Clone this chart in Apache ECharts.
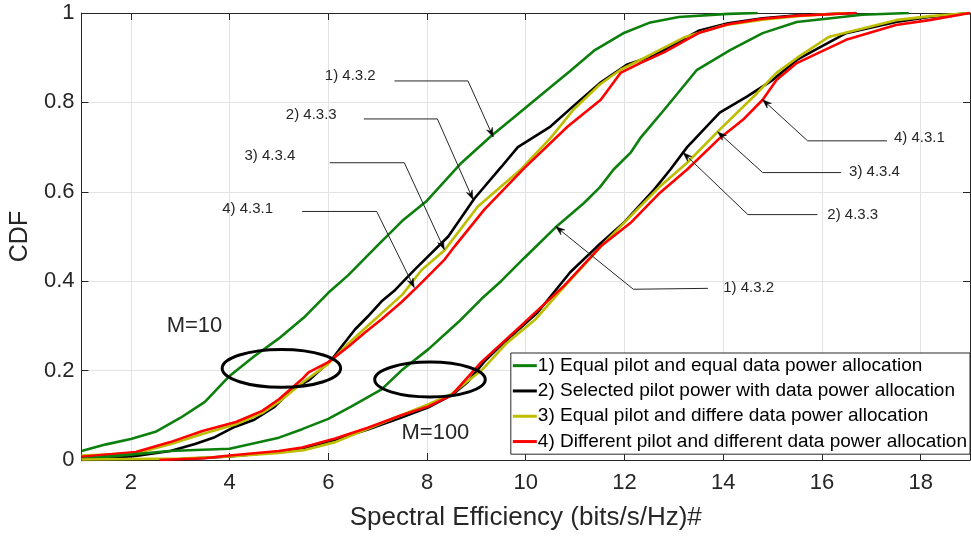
<!DOCTYPE html>
<html>
<head>
<meta charset="utf-8">
<script src="https://cdn.jsdelivr.net/npm/echarts@6/dist/echarts.min.js"></script>
<style>
html,body{margin:0;padding:0;background:#fff;}
#c{width:971px;height:536px;}
</style>
</head>
<body>
<div id="c"></div>
<script>
// ---- Data ----
const seriesNames = [
  '1) Equal pilot and equal data power allocation',
  '2) Selected pilot power with data power allocation',
  '3) Equal pilot and differe data power allocation',
  '4) Different pilot and different data power allocation'
];
const xTicks = [2, 4, 6, 8, 10, 12, 14, 16, 18];
const yTicks = [0, 0.2, 0.4, 0.6, 0.8, 1];

// M = 10
const eqEqM10 = [[1,0.02],[1.5,0.035],[2,0.047],[2.5,0.063],[3,0.094],[3.5,0.13],[4,0.188],[4.5,0.232],[5,0.272],[5.5,0.318],[6,0.374],[6.4,0.413],[7,0.48],[7.5,0.535],[8,0.58],[8.7,0.665],[9.3,0.725],[9.8,0.77],[10.4,0.825],[10.9,0.87],[11.4,0.917],[12,0.956],[12.5,0.978],[13.1,0.991],[14.1,0.998],[14.7,1]];
const selM10 = [[1,0],[2.1,0.009],[2.8,0.02],[3.3,0.036],[3.7,0.051],[4.1,0.074],[4.5,0.09],[4.9,0.118],[5.27,0.158],[5.6,0.178],[6.07,0.225],[6.27,0.254],[6.54,0.292],[6.8,0.321],[7.08,0.355],[7.35,0.38],[7.75,0.426],[8.43,0.5],[8.96,0.585],[9.5,0.655],[9.84,0.7],[10.5,0.746],[11.05,0.8],[11.5,0.843],[12.06,0.885],[12.6,0.905],[13.0,0.93],[13.5,0.96],[14.1,0.977],[14.8,0.988],[15.5,0.995],[16.7,1]];
const eqDiffM10 = [[1,0.01],[2.1,0.015],[2.8,0.035],[3.45,0.058],[4.13,0.08],[4.66,0.105],[5,0.13],[5.5,0.175],[6,0.215],[6.4,0.26],[6.88,0.308],[7.5,0.37],[7.89,0.425],[8.36,0.47],[9.03,0.567],[9.9,0.65],[10.5,0.72],[10.97,0.784],[11.5,0.84],[11.92,0.873],[12.5,0.905],[13.2,0.945],[14,0.972],[14.8,0.985],[15.5,0.993],[16.5,1]];
const diffDiffM10 = [[1,0.007],[2.1,0.018],[2.8,0.04],[3.45,0.065],[4.13,0.085],[4.66,0.11],[5,0.136],[5.47,0.181],[5.6,0.196],[6,0.219],[6.41,0.254],[6.75,0.286],[7.08,0.315],[7.48,0.353],[7.82,0.389],[8.36,0.449],[8.56,0.478],[9.16,0.56],[9.97,0.653],[10.85,0.746],[11.52,0.806],[11.92,0.866],[12.32,0.888],[12.8,0.912],[13.5,0.955],[14.1,0.975],[14.8,0.987],[15.5,0.994],[16.7,1]];

// M = 100
const eqEqM100 = [[1,0.002],[2,0.012],[2.78,0.02],[4,0.025],[5,0.05],[5.47,0.069],[6,0.092],[6.47,0.12],[7.08,0.158],[7.48,0.2],[8.03,0.248],[8.63,0.308],[9.1,0.36],[9.5,0.4],[9.97,0.452],[10.6,0.52],[11.18,0.575],[11.5,0.61],[11.78,0.65],[12.12,0.687],[12.32,0.72],[12.8,0.783],[13.47,0.873],[14.14,0.917],[14.8,0.955],[15.49,0.98],[16.82,0.996],[17.76,1]];
const selM100 = [[1,0],[3,0.002],[4,0.008],[5,0.018],[5.47,0.025],[6.14,0.045],[6.8,0.068],[7.48,0.095],[8.03,0.118],[8.5,0.145],[8.83,0.175],[9.16,0.22],[9.56,0.263],[10.24,0.33],[10.9,0.42],[11.45,0.478],[11.98,0.53],[12.6,0.605],[12.93,0.65],[13.27,0.7],[13.93,0.777],[14.48,0.813],[15,0.85],[15.49,0.895],[16.49,0.955],[17.5,0.98],[18.17,0.991],[19,1]];
const eqDiffM100 = [[1,0.001],[3,0.003],[4,0.008],[5,0.016],[5.5,0.022],[6.14,0.04],[6.8,0.07],[7.48,0.1],[8.03,0.125],[8.5,0.148],[9.1,0.2],[9.6,0.26],[10.2,0.315],[10.8,0.39],[11.5,0.475],[12.12,0.545],[12.7,0.61],[13.27,0.665],[13.93,0.739],[14.68,0.82],[15.08,0.866],[15.5,0.9],[16.15,0.947],[17.5,0.984],[18.2,0.993],[19,1]];
const diffDiffM100 = [[2.58,0],[3.5,0.004],[4,0.01],[5,0.02],[5.47,0.028],[6.14,0.048],[6.8,0.072],[7.48,0.1],[8.03,0.12],[8.5,0.145],[9.1,0.219],[9.9,0.3],[10.78,0.39],[11.52,0.478],[12.12,0.53],[12.72,0.598],[13.27,0.65],[13.93,0.72],[14.4,0.761],[14.8,0.806],[15.08,0.85],[15.49,0.888],[16.49,0.94],[17.5,0.973],[18.17,0.984],[19,1]];

// Annotations: [textX, textY, startX, startY, elbowX, elbowY, tipX, tipY]
const annoLabels = ['1) 4.3.2','2) 4.3.3','3) 4.3.4','4) 4.3.1','4) 4.3.1','3) 4.3.4','2) 4.3.3','1) 4.3.2'];
const annoPoints = [
  [5.93,0.859, 7.34,0.848, 8.83,0.848, 9.34,0.723],
  [5.14,0.772, 6.72,0.763, 8.21,0.763, 8.93,0.583],
  [4.30,0.681, 6.03,0.665, 7.54,0.665, 8.35,0.471],
  [3.85,0.5625, 5.47,0.556, 6.98,0.556, 7.74,0.386],
  [17.46,0.721, 17.32,0.714, 15.71,0.714, 14.8,0.806],
  [16.55,0.645, 16.39,0.643, 14.8,0.643, 13.89,0.734],
  [16.11,0.549, 15.91,0.549, 14.5,0.549, 13.19,0.6875],
  [14.0,0.386, 13.69,0.384, 12.18,0.382, 10.61,0.522]
];
// Ellipses: [cx, cy, rx, ry]
const ellipses = [[5.05,0.205,1.2,0.0424],[8.06,0.18,1.12,0.039]];
// Group labels: [x, y]
const groupLabels = ['M=10','M=100'];
const groupPos = [[3.29,0.299],[8.17,0.06]];

const colors = ['#0c7f0c', '#000000', '#bebe00', '#ff0000'];
const FONT = '"Liberation Sans", Arial, Helvetica, sans-serif';
const TXT = '#262626';

const chart = echarts.init(document.getElementById('c'), null, {renderer:'canvas'});

function lineSeries(name, data, color) {
  return {
    name: name, type: 'line', data: data, showSymbol: false, symbol: 'none',
    lineStyle: {color: color, width: 2.6}, itemStyle: {color: color},
    xAxisIndex: 0, yAxisIndex: 0, z: 3, animation: false
  };
}

const series = [
  lineSeries(seriesNames[0], eqEqM10, colors[0]),
  lineSeries(seriesNames[1], selM10, colors[1]),
  lineSeries(seriesNames[2], eqDiffM10, colors[2]),
  lineSeries(seriesNames[3], diffDiffM10, colors[3]),
  lineSeries(seriesNames[0], eqEqM100, colors[0]),
  lineSeries(seriesNames[1], selM100, colors[1]),
  lineSeries(seriesNames[2], eqDiffM100, colors[2]),
  lineSeries(seriesNames[3], diffDiffM100, colors[3]),
  {
    type: 'custom', name: 'anno', data: annoPoints, z: 5, silent: true,
    renderItem: function (params, api) {
      const t = api.coord([api.value(0), api.value(1)]);
      const s = api.coord([api.value(2), api.value(3)]);
      const e = api.coord([api.value(4), api.value(5)]);
      const p = api.coord([api.value(6), api.value(7)]);
      const ang = Math.atan2(p[1]-e[1], p[0]-e[0]);
      const L = 9, W = 3.2;
      const bx = p[0]-L*Math.cos(ang), by = p[1]-L*Math.sin(ang);
      const head = [[p[0],p[1]],[bx+W*Math.sin(ang), by-W*Math.cos(ang)],[p[0]-6*Math.cos(ang), p[1]-6*Math.sin(ang)],[bx-W*Math.sin(ang), by+W*Math.cos(ang)]];
      return {type:'group', children:[
        {type:'polyline', shape:{points:[s,e,p]}, style:{stroke:'#262626', lineWidth:1, fill:null}},
        {type:'polygon', shape:{points:head}, style:{fill:'#000', stroke:'#000', lineWidth:0.5}},
        {type:'text', x:t[0], y:t[1], style:{text:annoLabels[params.dataIndex], font:'15px '+FONT, fill:TXT, verticalAlign:'middle', align:'left'}}
      ]};
    }
  },
  {
    type: 'custom', name: 'ell', data: ellipses, z: 6, silent: true,
    renderItem: function (params, api) {
      const c = api.coord([api.value(0), api.value(1)]);
      const sz = api.size([api.value(2), api.value(3)]);
      return {type:'ellipse', shape:{cx:c[0], cy:c[1], rx:sz[0], ry:sz[1]}, style:{fill:null, stroke:'#000', lineWidth:3}};
    }
  },
  {
    type: 'custom', name: 'grp', data: groupPos, z: 6, silent: true,
    renderItem: function (params, api) {
      const c = api.coord([api.value(0), api.value(1)]);
      return {type:'text', x:c[0], y:c[1], style:{text:groupLabels[params.dataIndex], font:'22px '+FONT, fill:TXT, align:'center', verticalAlign:'middle'}};
    }
  }
];

const axisCommon = {
  type: 'value',
  axisLine: {show: true, onZero: false, lineStyle: {color: TXT, width: 1}},
  axisTick: {show: true, inside: true, length: 7, lineStyle: {color: TXT}},
};

chart.setOption({
  animation: false,
  backgroundColor: '#fff',
  grid: {left: 78, right: 1, top: 13, bottom: 75, containLabel: false},
  legend: {
    data: seriesNames, orient: 'vertical', right: 1, top: 353,
    backgroundColor: '#fff', borderColor: '#262626', borderWidth: 1,
    padding: [2, 3, 2, 2], itemGap: 4, itemWidth: 24, itemHeight: 3, icon: 'rect',
    textStyle: {fontFamily: FONT, fontSize: 19, color: '#000', lineHeight: 21.3, padding: [0,0,0,-4]},
    z: 10
  },
  xAxis: [
    Object.assign({}, axisCommon, {
      position: 'bottom', min: 1, max: 19,
      axisTick: {show: true, inside: true, length: 7, lineStyle: {color: TXT}, customValues: xTicks},
      axisLabel: {customValues: xTicks, color: TXT, fontFamily: FONT, fontSize: 22, margin: 12},
      splitLine: {show: true, lineStyle: {color: '#e3e3e3', width: 1}},
      name: 'Spectral Efficiency (bits/s/Hz)#', nameLocation: 'middle', nameGap: 45,
      nameTextStyle: {color: TXT, fontFamily: FONT, fontSize: 26}
    }),
    Object.assign({}, axisCommon, {
      position: 'top', min: 1, max: 19,
      axisTick: {show: true, inside: true, length: 7, lineStyle: {color: TXT}, customValues: xTicks},
      axisLabel: {show: false, customValues: xTicks},
      splitLine: {show: false}
    })
  ],
  yAxis: [
    Object.assign({}, axisCommon, {
      position: 'left', min: 0, max: 1, interval: 0.2,
      axisLabel: {color: TXT, fontFamily: FONT, fontSize: 22, margin: 7},
      splitLine: {show: true, lineStyle: {color: '#e3e3e3', width: 1}},
      name: 'CDF', nameLocation: 'middle', nameGap: 40,
      nameTextStyle: {color: TXT, fontFamily: FONT, fontSize: 25}
    }),
    Object.assign({}, axisCommon, {
      position: 'right', min: 0, max: 1, interval: 0.2,
      axisLabel: {show: false}, splitLine: {show: false}
    })
  ],
  series: series
});
</script>
</body>
</html>
